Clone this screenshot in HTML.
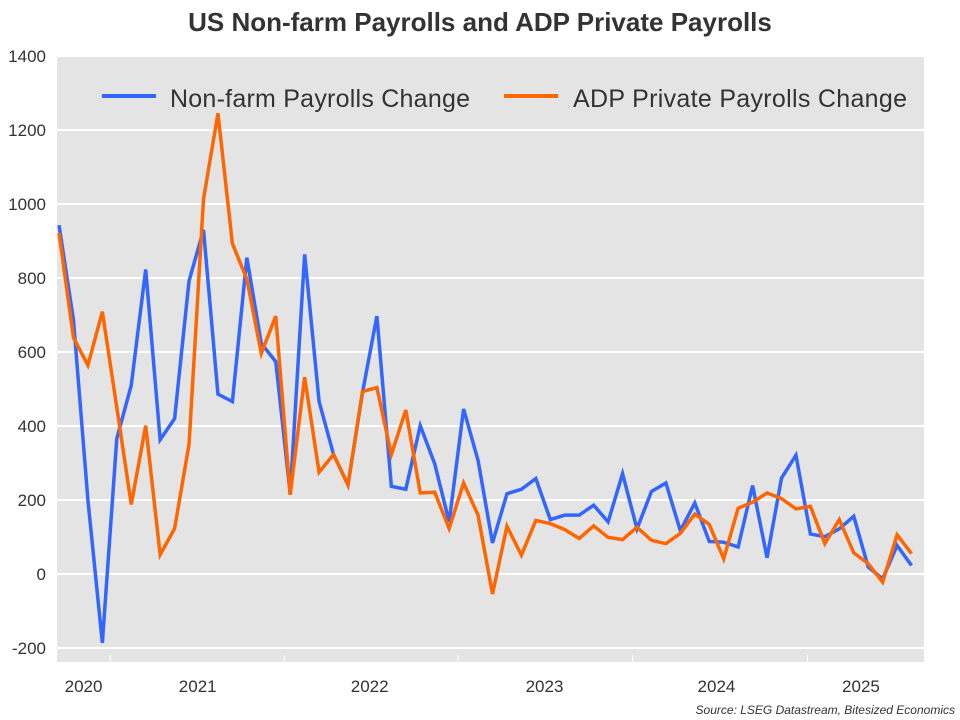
<!DOCTYPE html>
<html><head><meta charset="utf-8"><style>
body{margin:0;background:#fff;}
svg{display:block;font-family:"Liberation Sans",sans-serif;}
</style></head><body>
<svg id="chart" width="960" height="720">
<text x="480" y="31" text-anchor="middle" font-size="26" font-weight="bold" fill="#333">US Non-farm Payrolls and ADP Private Payrolls</text>
<rect x="57" y="55" width="867" height="607" fill="#e4e4e4"/>
<g id="grid"></g><g id="yticks"></g><g id="xticks"></g><g id="series"></g>
<g>
<line x1="102" y1="96" x2="156" y2="96" stroke="#3366ff" stroke-width="4"/>
<text x="170" y="107" font-size="25" fill="#333" textLength="300">Non-farm Payrolls Change</text>
<line x1="504" y1="96" x2="558" y2="96" stroke="#ff6600" stroke-width="4"/>
<text x="573" y="107" font-size="25" fill="#333" textLength="334">ADP Private Payrolls Change</text>
</g>
<text x="955" y="714" text-anchor="end" font-size="12" font-style="italic" fill="#333">Source: LSEG Datastream, Bitesized Economics</text>
</svg>
<script>
const nfpValues=[943,687,200,-186,366,510,823,363,420,792,930,486,466,855,623,574,217,864,466,323,241,490,697,237,229,401,298,141,446,307,84,217,229,258,147,159,159,186,141,271,122,223,246,117,192,88,86,73,239,44,259,321,108,101,122,156,19,-13,77,23];
const adpValues=[922,639,564,709,450,188,401,52,123,351,1013,1245,893,797,596,697,214,532,275,323,241,493,504,323,443,219,221,123,246,159,-54,129,51,145,136,120,96,130,99,93,126,91,82,110,162,134,41,178,194,219,204,176,183,82,147,57,28,-22,106,55];
const yTicks=[1400,1200,1000,800,600,400,200,0,-200];
const yearLabels=["2020","2021","2022","2023","2024","2025"];
const yearLabelIdx=[1.7,9.6,21.5,33.6,45.5,55.5];
const yearTickIdx=[3.55,15.6,27.6,39.7,51.8];
const NS="http://www.w3.org/2000/svg";
function X(i){return 59+i*14.45;}
function Y(v){return 574-v*0.37;}
function mk(tag,attrs,parent){const e=document.createElementNS(NS,tag);for(const k in attrs)e.setAttribute(k,attrs[k]);parent.appendChild(e);return e;}
const grid=document.getElementById('grid'),yt=document.getElementById('yticks'),xt=document.getElementById('xticks'),ser=document.getElementById('series');
yTicks.forEach(v=>{
 const l=mk('line',{x1:57,x2:924,y1:Y(v),y2:Y(v),stroke:'#fff','stroke-width':2},grid);
 
 
 const t=mk('text',{x:46,y:Y(v)+6,'text-anchor':'end','font-size':17,fill:'#333'},yt);
 t.textContent=v;
 
 
});
yearTickIdx.forEach(i=>{
 const l=mk('line',{x1:X(i),x2:X(i),y1:655,y2:662,stroke:'#fff','stroke-width':1},xt);
 
 
});
yearLabels.forEach((s,k)=>{
 const t=mk('text',{x:X(yearLabelIdx[k]),y:692,'text-anchor':'middle','font-size':17,fill:'#333'},xt);
 t.textContent=s;
 
 
});
function line(vals,color,name){
 const p=mk('polyline',{points:vals.map((v,i)=>X(i)+','+Y(v)).join(' '),fill:'none',stroke:color,'stroke-width':3.5,'stroke-linejoin':'miter'},ser);
 
 
}
line(nfpValues,'#3366ff','nfp-line');
line(adpValues,'#ff6600','adp-line');
</script>
</body></html>
